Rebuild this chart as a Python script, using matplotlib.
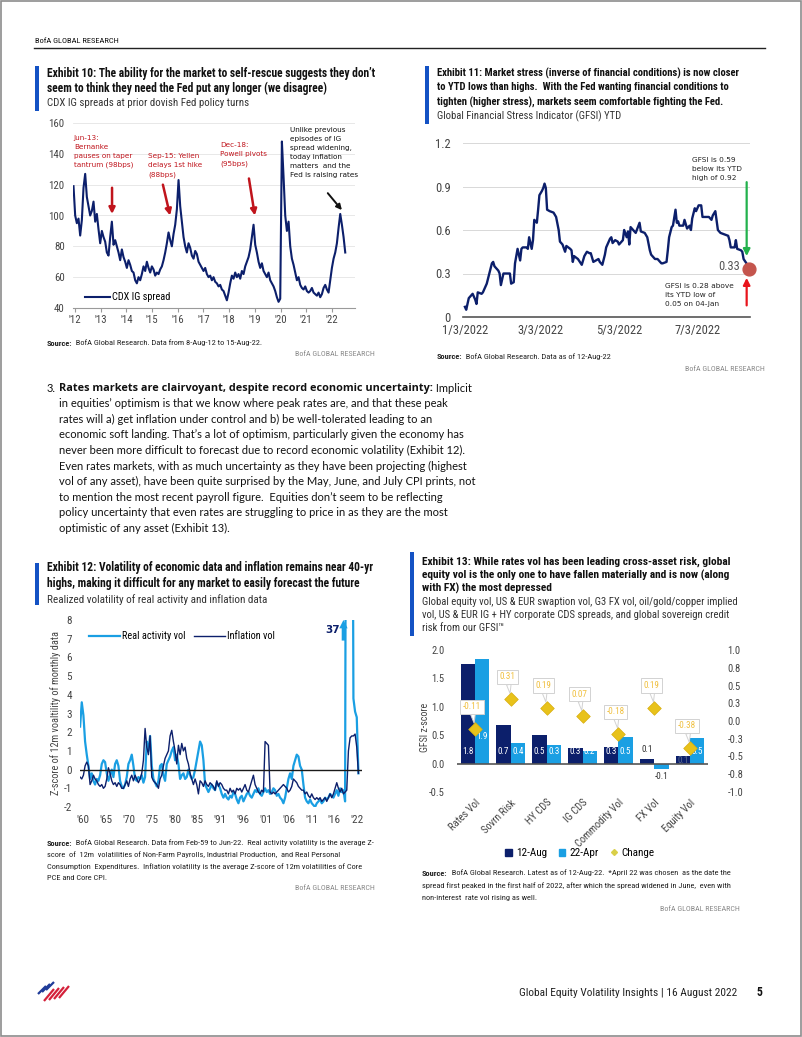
import numpy as np
import pandas as pd
import matplotlib
matplotlib.use('Agg')
import matplotlib.pyplot as plt
from matplotlib import font_manager
from matplotlib.patches import Rectangle
from matplotlib.lines import Line2D

plt.rcParams['axes.unicode_minus'] = False

# ---------------- data ----------------
# Exhibit 10: CDX IG spread (bps), Aug-12 .. Aug-22
cdx_ig = [
    119, 100, 95, 98, 87, 97, 118, 127, 112, 106,
    100, 103, 109, 96, 101, 91, 82, 90, 86, 83,
    76, 74, 86, 96, 81, 84, 80, 76, 71, 78,
    73, 70, 66, 71, 68, 64, 63, 58, 56, 60,
    58, 62, 67, 64, 70, 66, 63, 67, 65, 61,
    63, 62, 65, 67, 71, 76, 82, 89, 84, 80,
    88, 94, 104, 123, 106, 96, 86, 80, 76, 82,
    79, 74, 72, 77, 75, 70, 68, 66, 64, 66,
    62, 60, 61, 58, 60, 57, 56, 54, 55, 52,
    51, 48, 45, 50, 56, 61, 59, 63, 60, 62,
    59, 64, 62, 67, 70, 73, 78, 86, 94, 81,
    76, 70, 66, 69, 64, 62, 60, 63, 58, 56,
    54, 51, 47, 44, 46, 148, 125, 100, 90, 96,
    80, 72, 68, 63, 58, 60, 55, 53, 52, 54,
    51, 50, 51, 53, 50, 49, 48, 50, 47, 49,
    53, 55, 52, 50, 58, 66, 72, 76, 82, 92,
    101, 94, 86, 76]
cdx_start, cdx_end = 2011.94, 2022.52
cdx_ticks = list(range(2012, 2023))
cdx_ticklabels = ["'12", "'13", "'14", "'15", "'16", "'17", "'18", "'19", "'20", "'21", "'22"]

# Exhibit 11: GFSI YTD, days after 3-Jan-2022
gfsi_day = [0, 1, 3, 5, 6, 8, 9, 10, 13, 14, 17, 19, 21, 22, 23, 26, 27, 28, 30, 32,
            35, 36, 38, 39, 40, 41, 43, 44, 45, 48, 49, 50, 52, 53, 54, 56, 57, 58, 60, 61,
            62, 63, 64, 66, 69, 71, 73, 74, 76, 78, 79, 82, 83, 84, 85, 88, 91, 93, 95, 97,
            98, 100, 102, 104, 105, 107, 109, 110, 113, 114, 115, 117, 119, 120, 123, 124,
            126, 127, 128, 129, 131, 133, 136, 137, 140, 142, 144, 145, 148, 150, 153, 154,
            157, 158, 159, 161, 162, 164, 165, 166, 167, 170, 171, 173, 175, 176, 177, 179,
            180, 182, 184, 185, 188, 190, 192, 193, 195, 197, 199, 202, 205, 206, 207, 210,
            211, 212, 215, 216, 217, 220, 221]
gfsi = [0.07, 0.05, 0.13, 0.15, 0.16, 0.12, 0.09, 0.17, 0.16, 0.17, 0.23, 0.30, 0.37, 0.38,
        0.35, 0.32, 0.30, 0.22, 0.30, 0.30, 0.30, 0.23, 0.24, 0.37, 0.42, 0.47, 0.39, 0.47,
        0.48, 0.48, 0.47, 0.55, 0.47, 0.53, 0.67, 0.65, 0.74, 0.84, 0.87, 0.89, 0.92, 0.89,
        0.74, 0.73, 0.72, 0.69, 0.60, 0.52, 0.50, 0.45, 0.49, 0.47, 0.46, 0.38, 0.42, 0.40,
        0.36, 0.42, 0.45, 0.44, 0.44, 0.38, 0.39, 0.40, 0.38, 0.36, 0.43, 0.48, 0.54, 0.55,
        0.51, 0.53, 0.52, 0.50, 0.53, 0.60, 0.55, 0.59, 0.50, 0.62, 0.60, 0.58, 0.65, 0.59,
        0.58, 0.55, 0.46, 0.43, 0.40, 0.40, 0.37, 0.37, 0.38, 0.46, 0.55, 0.62, 0.63, 0.74,
        0.65, 0.66, 0.63, 0.63, 0.67, 0.61, 0.63, 0.60, 0.68, 0.75, 0.73, 0.77, 0.77, 0.69,
        0.69, 0.69, 0.67, 0.70, 0.73, 0.60, 0.58, 0.57, 0.56, 0.53, 0.48, 0.48, 0.53, 0.47,
        0.46, 0.45, 0.40, 0.36, 0.33]
gfsi_tick_days = [0, 59, 120, 181]
gfsi_ticklabels = ['1/3/2022', '3/3/2022', '5/3/2022', '7/3/2022']
gfsi_last = 0.33

# Exhibit 12: z-score of 12m volatility, Feb-59 .. Jun-22
real_vol = [
    2.3, 3.6, 2.9, 1.5, 0.8, 0.2, -0.5, -0.2, -0.6, -0.8,
    -0.5, -0.6, -0.3, 0.3, 0.5, 0.4, -0.2, -0.6, -0.3, 0.0,
    -0.4, 0.3, 0.5, 0.2, -0.6, -0.9, -1.0, -0.8, -0.4, 0.3,
    0.5, 0.8, 0.2, -0.5, -0.6, -0.4, -0.5, -0.3, -0.7, -0.4,
    1.5, 1.0, 1.8, 0.2, -0.5, -0.7, -0.9, -0.6, 0.2, 0.3,
    -0.3, -0.6, 0.3, 0.5, 0.7, 1.0, 1.2, 0.5, 0.8, 0.3,
    -0.5, -0.3, -0.2, -0.5, -0.4, 0.0, -0.3, -0.5, -0.4, 0.0,
    0.5, 1.0, 1.5, 1.3, 0.5, -0.8, -1.0, -1.2, -1.0, -0.8,
    -1.0, -1.1, -0.7, -0.8, -1.0, -1.3, -1.5, -1.3, -1.5, -1.6,
    -1.4, -1.5, -1.2, -1.3, -1.6, -1.8, -1.5, -1.4, -1.7, -1.5,
    -1.3, -1.2, -1.4, -1.5, -1.3, -1.1, -1.2, -1.0, -1.3, -1.4,
    -1.2, -1.0, -1.2, -1.1, -1.3, -1.2, -1.0, -1.1, -1.4, -1.3,
    -1.5, -1.6, -1.8, -1.5, -1.0, -0.5, -0.2, -0.5, 0.2, 0.5,
    0.8, 0.7, 0.2, 0.0, -0.8, -1.5, -1.7, -1.8, -1.6, -1.8,
    -1.9, -2.0, -1.8, -1.7, -1.6, -1.8, -1.7, -1.5, -1.6, -1.5,
    -1.3, -1.4, -1.5, -1.3, -1.1, -1.4, -1.0, -1.2, -1.1, -1.7,
    37.0, 37.0, 37.0, 30.0, 3.8, 3.1, 2.8, -0.2]
infl_vol = [
    -0.4, -0.5, -0.3, 0.2, 0.4, 0.2, -0.8, -0.6, -0.3, -0.5,
    -0.6, -0.8, -0.9, -0.8, -1.0, -0.9, -0.5, 0.1, -0.2, -0.6,
    -0.8, -0.7, -0.9, -0.7, -0.8, -1.0, -1.0, -0.8, -0.6, -0.9,
    -0.5, -0.3, -0.6, -0.3, -0.5, -0.7, -0.5, -0.2, 0.5, 2.2,
    1.2, 0.8, 1.8, -0.4, -0.6, -0.7, -0.8, -1.0, -0.5, -0.3,
    0.2, 0.6, 0.8, 1.0, 1.8, 2.1, 1.5, 1.0, 0.3, 1.3,
    0.8, 1.4, 1.0, 1.2, 0.6, 0.3, -0.2, -0.5, -0.8, -0.5,
    -0.8, -1.3, -0.6, -0.7, -0.9, -0.6, -0.8, -0.9, -0.7, -0.8,
    -0.9, -1.1, -0.6, -0.9, -0.7, -0.8, -1.0, -1.1, -1.1, -1.3,
    -1.0, -1.2, -1.1, -1.3, -1.0, -1.1, -1.0, -1.2, -1.0, -0.8,
    -1.1, -1.2, -0.9, -0.6, -0.3, -0.8, -1.0, -1.2, -1.3, -1.1,
    -1.2, 1.5, 1.4, 1.3, -1.2, -1.3, -1.2, -1.3, -1.2, -1.1,
    -1.0, -0.9, -0.8, -0.9, -1.0, -1.2, -1.1, -0.9, -0.5, -0.6,
    -0.7, -0.9, -1.0, -1.1, -1.1, -1.3, -1.2, -1.4, -1.5, -1.3,
    -1.5, -1.6, -1.5, -1.6, -1.5, -1.7, -1.6, -1.5, -1.7, -1.5,
    -1.3, -1.5, -1.3, -1.0, -0.7, -1.0, -1.2, -1.0, -1.3, -1.2,
    -1.1, 1.0, 1.7, 1.8, 1.8, 1.9, 1.2, -0.2]
vol_start, vol_end = 1959.32, 2022.29
vol_ticklabels = ["'60", "'65", "'70", "'75", "'80", "'85", "'91", "'96", "'01", "'06", "'11", "'16", "'22"]
real_peak = 37

# Exhibit 13: GFSI z-scores by asset
assets = ['Rates Vol', 'Sovrn Risk', 'HY CDS', 'IG CDS', 'Commodity Vol', 'FX Vol', 'Equity Vol']
z_aug12 = [1.75, 0.68, 0.51, 0.28, 0.30, 0.08, 0.13]
z_apr22 = [1.85, 0.37, 0.32, 0.22, 0.47, -0.10, 0.45]
z_change = [-0.11, 0.31, 0.19, 0.07, -0.18, 0.19, -0.38]

# ---------------- style ----------------
names = {f.name for f in font_manager.fontManager.ttflist}
NARROW = 'Roboto'
for cand in ['Liberation Sans Narrow', 'Roboto Condensed', 'Open Sans Condensed', 'Noto Sans Condensed']:
    if cand in names:
        NARROW = cand
        break
BODY = 'Lato' if 'Lato' in names else 'Open Sans'
NF = [NARROW, 'DejaVu Sans']
NAVY = '#0C1F6B'
LBLUE = '#1A9FE3'
ACCENT = '#1452C4'
RED = '#C0141C'
GOLD = '#F0C040'
TICK = '#444444'

W, H = 802, 1037
fig = plt.figure(figsize=(W / 100, H / 100), dpi=100)
renderer = fig.canvas.get_renderer()


def fx(px):
    return px / W


def fy(py):
    return 1 - py / H


def ax_rect(left, top, right, bottom):
    return [fx(left), fy(bottom), (right - left) / W, (bottom - top) / H]


def rich(px, py, parts, color='#222222'):
    x = px
    for s, w, fam, size in parts:
        t = fig.text(fx(x), fy(py), s, fontsize=size, fontweight=w, family=fam,
                     color=color, va='center', ha='left')
        x += t.get_window_extent(renderer=renderer).width


def title_block(px, py, lines, subs, bar_top, bar_bot, step=15, sub_step=14, size=7.6, sub_size=7.8):
    fig.add_artist(Rectangle((fx(px - 12), fy(bar_bot)), 3.5 / W, (bar_bot - bar_top) / H,
                             transform=fig.transFigure, color=ACCENT, lw=0))
    y = py
    for ln in lines:
        fig.text(fx(px), fy(y), ln, fontsize=size, fontweight='bold', family=NF,
                 color='#111111', va='center')
        y += step
    for ln in subs:
        fig.text(fx(px), fy(y), ln, fontsize=sub_size, family=NF, color='#333333', va='center')
        y += sub_step


def source_block(px, py, lines, step=12):
    rich(px, py, [('Source:', 'bold', NF, 6.0), ('  ' + lines[0], 'normal', NF, 6.0)])
    for i, ln in enumerate(lines[1:], 1):
        fig.text(fx(px), fy(py + i * step), ln, fontsize=6.0, family=NF, color='#222222', va='center')


def bofa_tag(px_right, py):
    fig.text(fx(px_right), fy(py), 'BofA GLOBAL RESEARCH', fontsize=5.8, family=NF,
             color='#8A8A8A', ha='right', va='center')


# ---------------- page ----------------
fig.add_artist(Rectangle((0.001, 0.001), 0.998, 0.998, transform=fig.transFigure,
                         fill=False, ec='#8C8C8C', lw=1.2))
fig.text(fx(35), fy(41), 'BofA GLOBAL RESEARCH', fontsize=6.0, family=NF, color='#111111', va='center')
fig.add_artist(Line2D([fx(34), fx(765)], [fy(48), fy(48)], color='#222222', lw=1.0))

# ---------------- Exhibit 10 ----------------
title_block(47, 73, ['Exhibit 10: The ability for the market to self-rescue suggests they don\u2019t',
                     'seem to think they need the Fed put any longer (we disagree)'],
            ['CDX IG spreads at prior dovish Fed policy turns'], 66, 111, size=8.3, sub_size=7.8)

ax1 = fig.add_axes(ax_rect(73, 123, 355, 308))
x10 = np.linspace(cdx_start, cdx_end, len(cdx_ig))
ax1.plot(x10, cdx_ig, color=NAVY, lw=1.5, label='CDX IG spread')
ax1.set_xlim(2011.92, 2022.9)
ax1.set_ylim(40, 160)
ax1.set_yticks(range(40, 161, 20))
ax1.set_xticks(cdx_ticks)
ax1.set_xticklabels(cdx_ticklabels)
ax1.grid(axis='y', color='#E4E4E4', lw=0.6)
ax1.set_axisbelow(True)
for s in ['top', 'right', 'left']:
    ax1.spines[s].set_visible(False)
ax1.spines['bottom'].set_color('#9A9A9A')
ax1.tick_params(axis='y', length=0, labelsize=7.8, labelcolor=TICK, pad=6)
ax1.tick_params(axis='x', length=3, color='#9A9A9A', labelsize=7.8, labelcolor=TICK, pad=2)
for lab in ax1.get_xticklabels() + ax1.get_yticklabels():
    lab.set_family(NF)
ax1.legend(loc='lower left', bbox_to_anchor=(0.01, -0.02), frameon=False,
           handlelength=2.4, handletextpad=0.2, prop={'family': NF, 'size': 7.4})

ann_kw = dict(fontsize=5.2, family='DejaVu Sans', va='top', ha='left', linespacing=1.62)
ax1.text(2011.95, 152.5, 'Jun-13:\nBernanke\npauses on taper\ntantrum (98bps)', color=RED, **ann_kw)
ax1.text(2014.84, 140.5, 'Sep-15: Yellen\ndelays 1st hike\n(88bps)', color=RED, **ann_kw)
ax1.text(2017.64, 147.5, 'Dec-18:\nPowell pivots\n(95bps)', color=RED, **ann_kw)
ax1.text(2020.37, 157.5, 'Unlike previous\nepisodes of IG\nspread widening,\ntoday inflation\nmatters  and the\nFed is raising rates',
         color='#111111', **ann_kw)
arrow_red = dict(arrowstyle='-|>', color=RED, lw=1.8, mutation_scale=9, shrinkA=0, shrinkB=0)
ax1.annotate('', xy=(2013.44, 101.0), xytext=(2013.44, 118.0), arrowprops=arrow_red)
ax1.annotate('', xy=(2015.70, 100.0), xytext=(2015.42, 120.0), arrowprops=arrow_red)
ax1.annotate('', xy=(2019.0, 100.0), xytext=(2018.77, 124.0), arrowprops=arrow_red)
ax1.annotate('', xy=(2022.39, 103.5), xytext=(2021.84, 114.5),
             arrowprops=dict(arrowstyle='-|>', color='#111111', lw=1.4, mutation_scale=8, shrinkA=0, shrinkB=0))

source_block(47, 343, ['BofA Global Research. Data from 8-Aug-12 to 15-Aug-22.'])
bofa_tag(375, 354)

# ---------------- Exhibit 11 ----------------
title_block(437, 73, ['Exhibit 11: Market stress (inverse of financial conditions) is now closer',
                      'to YTD lows than highs.  With the Fed wanting financial conditions to',
                      'tighten (higher stress), markets seem comfortable fighting the Fed.'],
            ['Global Financial Stress Indicator (GFSI) YTD'], 66, 124, step=14.5, size=7.7, sub_size=7.7)

ax2 = fig.add_axes(ax_rect(463, 143, 750, 317))
ax2.plot(gfsi_day, gfsi, color=NAVY, lw=1.7)
ax2.scatter([gfsi_day[-1]], [gfsi_last], s=85, color='#C4554D', zorder=5, clip_on=False)
ax2.set_xlim(-1.5, 222)
ax2.set_ylim(0, 1.2)
ax2.set_yticks([0, 0.3, 0.6, 0.9, 1.2])
ax2.set_yticklabels(['0', '0.3', '0.6', '0.9', '1.2'])
ax2.set_xticks(gfsi_tick_days)
ax2.set_xticklabels(gfsi_ticklabels)
ax2.grid(axis='y', color='#D8D8D8', lw=0.7)
ax2.set_axisbelow(True)
for s in ['top', 'right', 'left']:
    ax2.spines[s].set_visible(False)
ax2.spines['bottom'].set_color('#555555')
ax2.spines['bottom'].set_linewidth(1.2)
ax2.tick_params(axis='both', length=0, labelsize=9, labelcolor=TICK)
ax2.tick_params(axis='y', pad=9)
ax2.tick_params(axis='x', pad=5)
for lab in ax2.get_xticklabels() + ax2.get_yticklabels():
    lab.set_family(NF)
ann2 = dict(fontsize=5.3, family='DejaVu Sans', va='center', ha='left', linespacing=1.55, color='#222222')
ax2.text(176.7, 1.02, 'GFSI is 0.59\nbelow its YTD\nhigh of 0.92', **ann2)
ax2.text(155.8, 0.152, 'GFSI is 0.28 above\nits YTD low of\n0.05 on 04-Jan', **ann2)
ax2.text(214, 0.35, f'{gfsi_last:.2f}', fontsize=9, family=NF, color='#555555', ha='right', va='center')
ax2.annotate('', xy=(219.4, 0.42), xytext=(219.4, 0.93),
             arrowprops=dict(arrowstyle='-|>', color='#22B14C', lw=1.6, mutation_scale=10, shrinkA=0, shrinkB=0))
ax2.annotate('', xy=(219.4, 0.27), xytext=(219.4, 0.08),
             arrowprops=dict(arrowstyle='-|>', color='#E8141C', lw=1.6, mutation_scale=10, shrinkA=0, shrinkB=0),
             annotation_clip=False)

source_block(437, 357, ['BofA Global Research. Data as of 12-Aug-22'])
bofa_tag(765, 369)

# ---------------- body text ----------------
body = ['in equities\u2019 optimism is that we know where peak rates are, and that these peak',
        'rates will a) get inflation under control and b) be well-tolerated leading to an',
        'economic soft landing. That\u2019s a lot of optimism, particularly given the economy has',
        'never been more difficult to forecast due to record economic volatility (Exhibit 12).',
        'Even rates markets, with as much uncertainty as they have been projecting (highest',
        'vol of any asset), have been quite surprised by the May, June, and July CPI prints, not',
        'to mention the most recent payroll figure.  Equities don\u2019t seem to be reflecting',
        'policy uncertainty that even rates are struggling to price in as they are the most',
        'optimistic of any asset (Exhibit 13).']
BSIZE = 8.0
fig.text(fx(47), fy(388), '3.', fontsize=BSIZE, family=BODY, color='#111111', va='center')
rich(59, 388, [('Rates markets are clairvoyant, despite record economic uncertainty:', 'bold', 'Open Sans', 7.8),
               (' Implicit', 'normal', BODY, BSIZE)], color='#111111')
for i, ln in enumerate(body, 1):
    fig.text(fx(59), fy(388 + i * 15.6), ln, fontsize=BSIZE, family=BODY, color='#111111', va='center')

# ---------------- Exhibit 12 ----------------
title_block(47, 568, ['Exhibit 12: Volatility of economic data and inflation remains near 40-yr',
                      'highs, making it difficult for any market to easily forecast the future'],
            ['Realized volatility of real activity and inflation data'], 563, 605, step=16,
            size=8.3, sub_size=8.0)

ax3 = fig.add_axes(ax_rect(80, 620, 362, 807))
x12r = np.linspace(vol_start, vol_end, len(real_vol))
x12i = np.linspace(vol_start, vol_end, len(infl_vol))
ax3.plot(x12r, real_vol, color=LBLUE, lw=1.6, label='Real activity vol')
ax3.plot(x12i, infl_vol, color=NAVY, lw=1.0, label='Inflation vol')
ax3.axhline(0, color='#1A1A1A', lw=1.0, zorder=3)
ax3.set_xlim(1959.3, 2023.1)
ax3.set_ylim(-2, 8)
ax3.set_yticks(range(-2, 9))
ax3.set_xticks(np.linspace(1960, 2022, len(vol_ticklabels)))
ax3.set_xticklabels(vol_ticklabels)
for s in ax3.spines.values():
    s.set_visible(False)
ax3.tick_params(axis='both', length=0, labelsize=8, labelcolor=TICK)
ax3.tick_params(axis='y', pad=6)
ax3.tick_params(axis='x', pad=6)
for lab in ax3.get_xticklabels() + ax3.get_yticklabels():
    lab.set_family(NF)
ax3.legend(loc='upper left', bbox_to_anchor=(0.0, 0.99), ncol=2, frameon=False, handlelength=3.0,
           handletextpad=0.2, columnspacing=0.8, prop={'family': NF, 'size': 7.4})
ax3.text(2016.5, 7.47, str(real_peak), fontsize=7.5, fontweight='bold', family='DejaVu Sans',
         color=NAVY, va='center', ha='center')
ax3.annotate('', xy=(2018.9, 8.0), xytext=(2018.9, 6.9),
             arrowprops=dict(arrowstyle='simple,head_length=0.6,head_width=0.6,tail_width=0.25',
                             color=LBLUE, lw=0, shrinkA=0, shrinkB=0), annotation_clip=False)
fig.text(fx(56), fy(713), 'Z-score of 12m voaltility of monthly data', rotation=90, fontsize=7.4,
         family=NF, color=TICK, ha='center', va='center')

source_block(47, 843, ['BofA Global Research. Data from Feb-59 to Jun-22.  Real activity volatility is the average Z-',
                       'score  of  12m  volatilities of Non-Farm Payrolls, Industrial Production,  and Real Personal',
                       'Consumption  Expenditures.  Inflation volatility is the average Z-score of 12m volatilities of Core',
                       'PCE and Core CPI.'], step=11.6)
bofa_tag(375, 888)

# ---------------- Exhibit 13 ----------------
title_block(422, 562, ['Exhibit 13: While rates vol has been leading cross-asset risk, global',
                       'equity vol is the only one to have fallen materially and is now (along',
                       'with FX) the most depressed'],
            ['Global equity vol, US & EUR swaption vol, G3 FX vol, oil/gold/copper implied',
             'vol, US & EUR IG + HY corporate CDS spreads, and global sovereign credit',
             'risk from our GFSI\u2122'], 552, 636, step=13.3, sub_step=13, size=8.2, sub_size=7.7)

ax4 = fig.add_axes(ax_rect(457, 650, 708, 792))
xs = np.arange(len(assets))
ax4.bar(xs - 0.2, z_aug12, 0.4, color=NAVY, label='12-Aug')
ax4.bar(xs + 0.2, z_apr22, 0.4, color=LBLUE, label='22-Apr')
ax4.axhline(0, color='#555555', lw=1.2)
ax4.set_xlim(-0.5, len(assets) - 0.5)
ax4.set_ylim(-0.5, 2.0)
ax4.set_yticks([-0.5, 0, 0.5, 1.0, 1.5, 2.0])
ax4.set_yticklabels([f'{v:.1f}' for v in [-0.5, 0, 0.5, 1.0, 1.5, 2.0]])
ax4.set_xticks(xs)
ax4.set_xticklabels(assets, rotation=45, ha='right', rotation_mode='anchor')
for s in ax4.spines.values():
    s.set_visible(False)
ax4.tick_params(axis='both', length=0, labelsize=7.6, labelcolor=TICK)
ax4.tick_params(axis='y', pad=9)
ax4.tick_params(axis='x', pad=4)
for lab in ax4.get_xticklabels() + ax4.get_yticklabels():
    lab.set_family(NF)

BL = 6.6
for i, (a, b) in enumerate(zip(z_aug12, z_apr22)):
    if a >= 0.2:
        ax4.text(i - 0.2, 0.22, f'{a:.1f}', color='white', fontsize=BL, family=NF, ha='center', va='center')
    elif i == len(assets) - 1:
        ax4.text(i - 0.2, 0.06, f'{a:.1f}', color='#5A6A90', fontsize=BL, family=NF, ha='center', va='center')
    else:
        ax4.text(i - 0.2, a + 0.16, f'{a:.1f}', color='#333333', fontsize=BL, family=NF, ha='center', va='center')
    if b >= 0.2:
        yb = 0.47 if i == 0 else 0.22
        ax4.text(i + 0.2, yb, f'{b:.1f}', color='white', fontsize=BL, family=NF, ha='center', va='center')
    else:
        ax4.text(i + 0.2, b - 0.12, f'{b:.1f}', color='#333333', fontsize=BL, family=NF, ha='center', va='center')

ax4b = ax4.twinx()
ax4b.set_ylim(-1, 1)
rt = [-1, -0.75, -0.5, -0.25, 0, 0.25, 0.5, 0.75, 1]
ax4b.set_yticks(rt)
ax4b.set_yticklabels(['-1.0', '-0.8', '-0.5', '-0.3', '0.0', '0.3', '0.5', '0.8', '1.0'])
for s in ax4b.spines.values():
    s.set_visible(False)
ax4b.tick_params(axis='y', length=0, labelsize=7.6, labelcolor=TICK, pad=14)
for lab in ax4b.get_yticklabels():
    lab.set_family(NF)
for i, v in enumerate(z_change):
    ax4b.annotate(f'{v:.2f}', xy=(i, v), xytext=(-3, 22), textcoords='offset pixels',
                  ha='center', va='center', color=GOLD, fontsize=6.6, family=NF,
                  bbox=dict(boxstyle='square,pad=0.3', fc='white', ec='#D2D2D2', lw=0.7),
                  arrowprops=dict(arrowstyle='wedge,tail_width=0.5,shrink_factor=0.5', fc='white',
                                  ec='#D2D2D2', lw=0.7, shrinkA=0, shrinkB=4))
ax4b.scatter(xs, z_change, marker='D', s=48, color='#E8C21A', edgecolor='#D8AE10', lw=0.5, zorder=6,
             label='Change')
fig.text(fx(425), fy(727), 'GFSI z-score', rotation=90, fontsize=7.2, family=NF, color=TICK,
         ha='center', va='center')

handles = [Rectangle((0, 0), 1, 1, color=NAVY), Rectangle((0, 0), 1, 1, color=LBLUE),
           Line2D([], [], marker='D', ls='none', color='#D9CF48', markersize=3)]
fig.legend(handles, ['12-Aug', '22-Apr', 'Change'], loc='center', bbox_to_anchor=(fx(580), fy(853)),
           ncol=3, frameon=False, handlelength=0.6, handleheight=0.6, handletextpad=0.4,
           columnspacing=1.0, prop={'family': NF, 'size': 8})

source_block(422, 873, ['BofA Global Research. Latest as of 12-Aug-22.  *April 22 was chosen  as the date the',
                        'spread first peaked in the first half of 2022, after which the spread widened in June,  even with',
                        'non-interest  rate vol rising as well.'], step=12.5)
bofa_tag(740, 909)

# ---------------- footer ----------------
for k in range(3):
    fig.add_artist(Line2D([fx(38 + 4 * k), fx(46 + 4 * k)], [fy(994 - 2 * k), fy(986 - 2 * k)],
                          color='#1F3C99', lw=1.6, solid_capstyle='butt'))
for k in range(4):
    fig.add_artist(Line2D([fx(44 + 5 * k), fx(54 + 5 * k)], [fy(1001 - k), fy(989 - k)],
                          color='#D4213A', lw=1.6, solid_capstyle='butt'))
fig.text(fx(737), fy(993), 'Global Equity Volatility Insights | 16 August 2022', fontsize=8.2,
         family=NF, color='#222222', ha='right', va='center')
fig.text(fx(762), fy(993), '5', fontsize=8.5, fontweight='bold', family=NF, color='#111111',
         ha='right', va='center')

fig.savefig('out.png', dpi=100)
